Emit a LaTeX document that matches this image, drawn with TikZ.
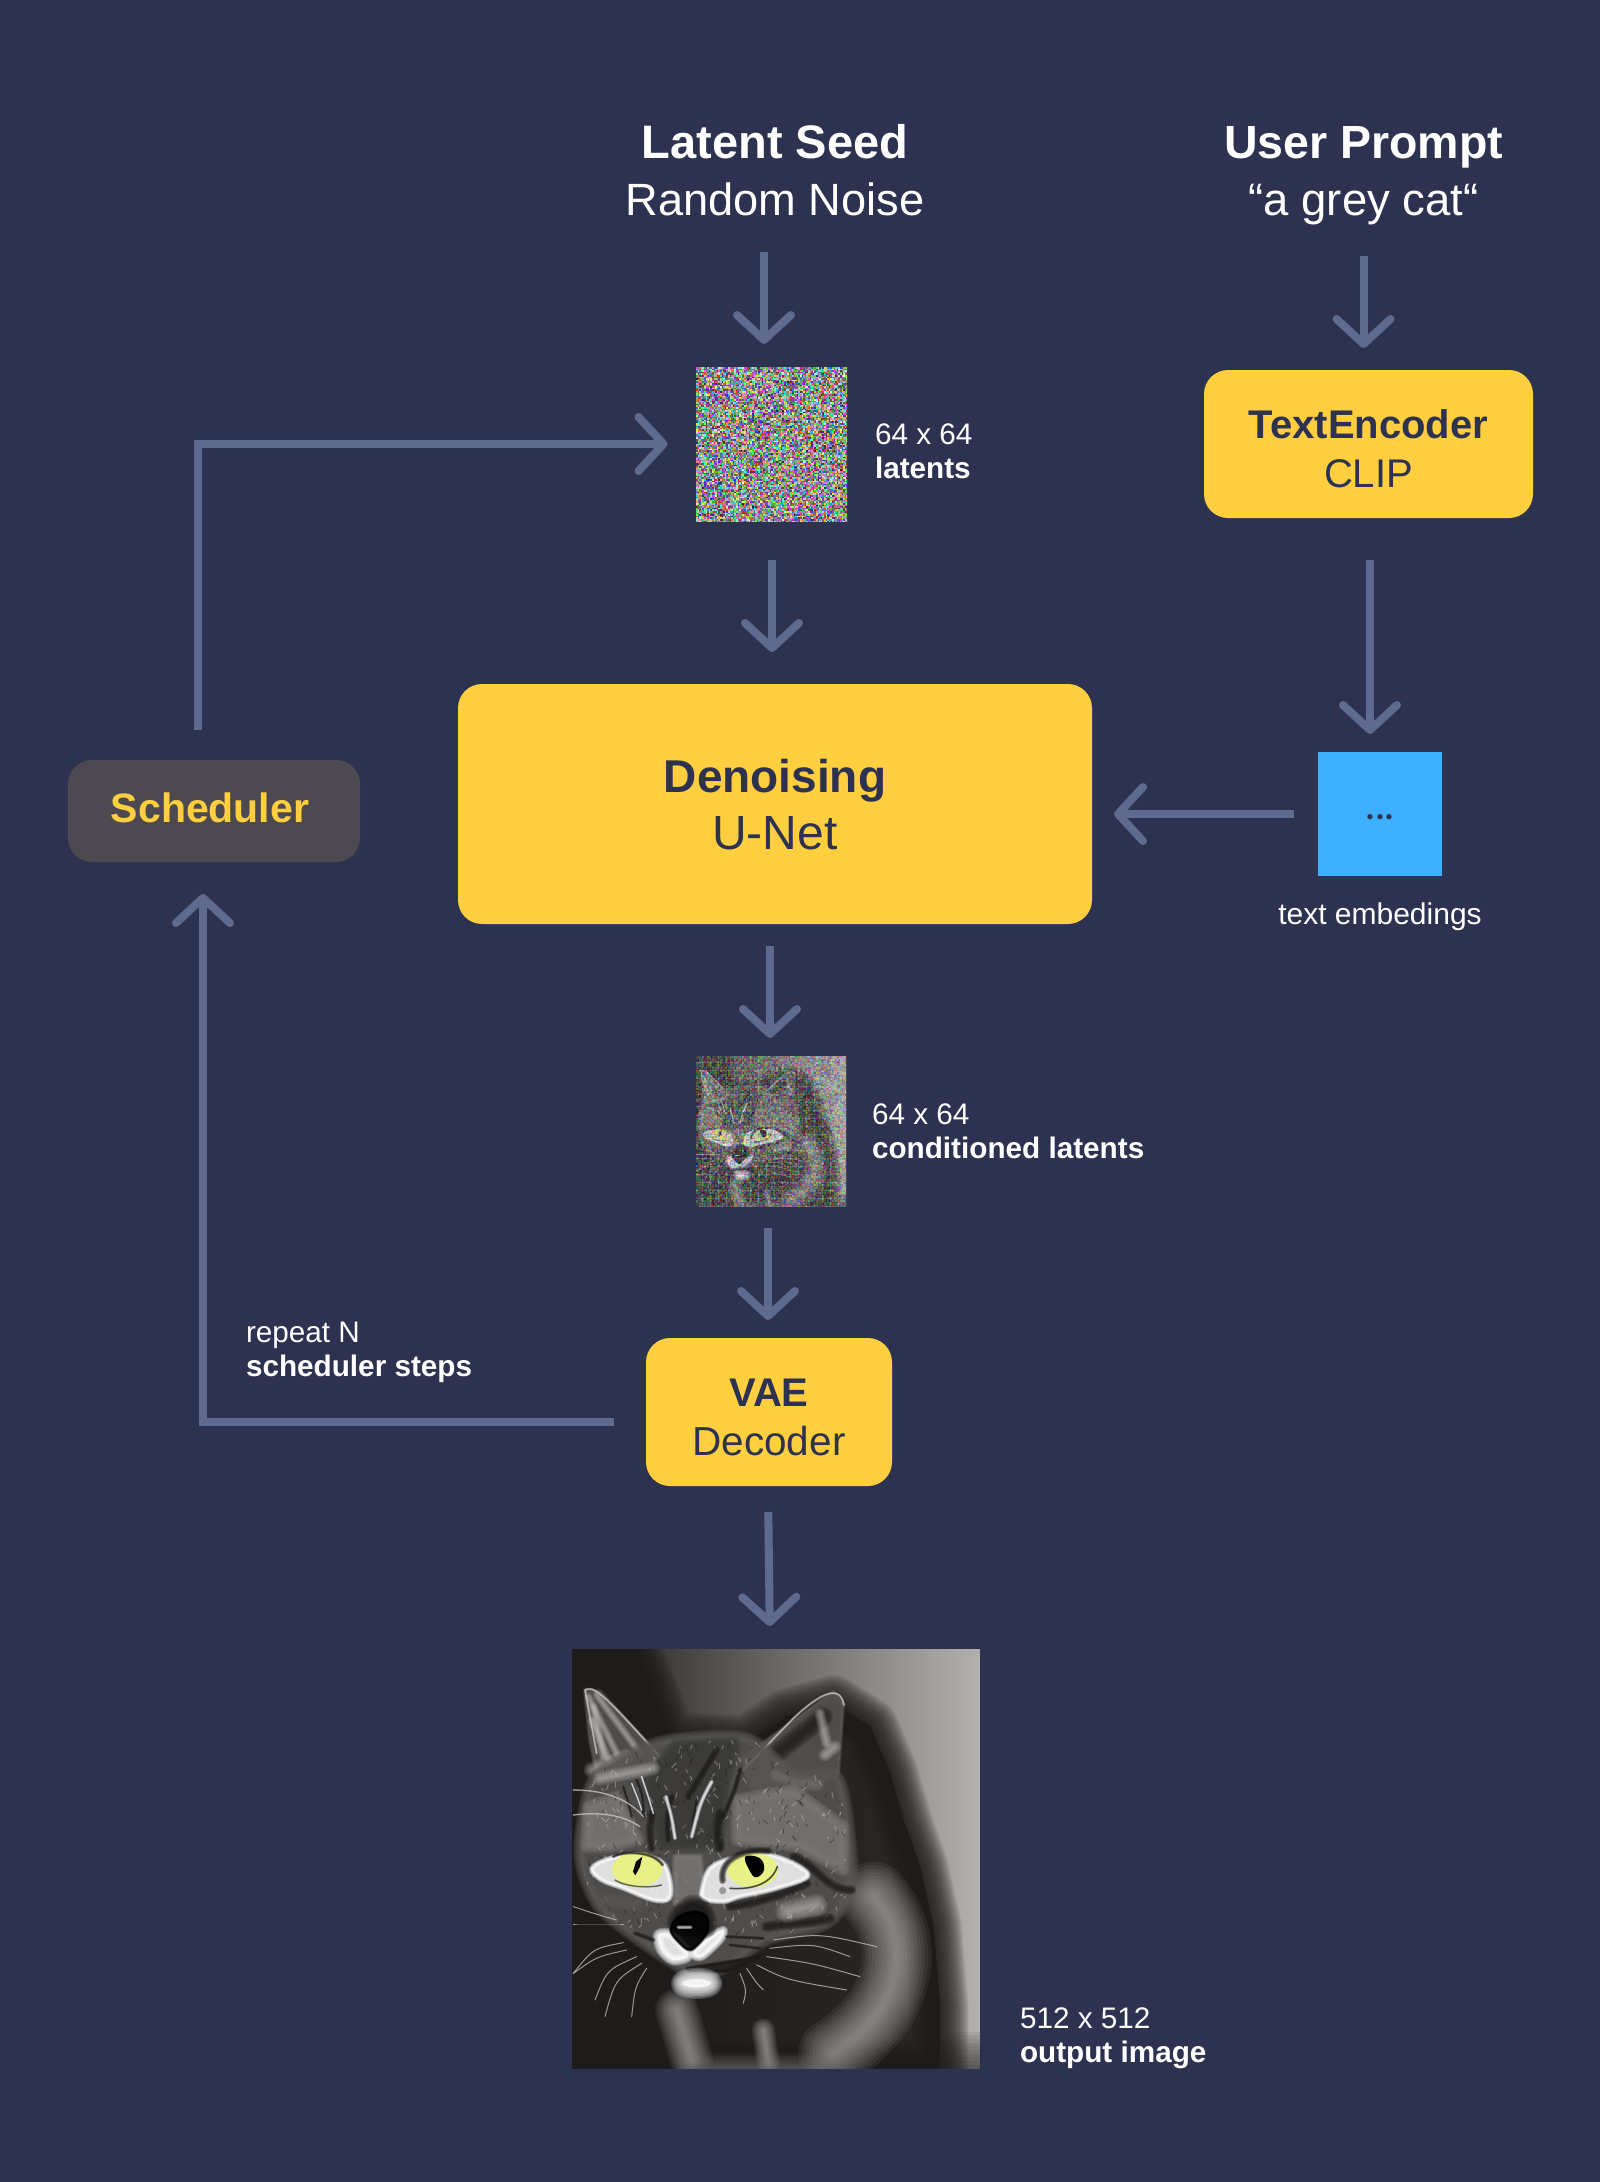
\documentclass[tikz,border=0pt]{standalone}
\usepackage{fontspec}
\setmainfont{Liberation Sans}
\newfontfamily\dotfont{Lato}
\usetikzlibrary{arrows.meta}
\definecolor{bgc}{HTML}{2D3250}
\definecolor{yel}{HTML}{FFCF3F}
\definecolor{flowc}{HTML}{5F6A8F}
\definecolor{schedc}{HTML}{4C4A50}
\definecolor{bluec}{HTML}{3EAFFF}
\definecolor{cdark}{HTML}{1E1C1B}
\definecolor{cmid}{HTML}{5A5856}
\definecolor{cfur}{HTML}{7A7876}
\definecolor{clite}{HTML}{D0CECC}
\definecolor{ceye}{HTML}{E8F088}
\newcommand\fsz[2]{\fontsize{#1}{#2}\selectfont}
% last baseline raise, line skip, first line, second line
\newcommand\twoline[4]{\raisebox{#1pt}[0pt][0pt]{\makebox[0pt][c]{\raisebox{#2pt}{#3}}\makebox[0pt][c]{#4}}}
\newcommand\softfill[3]{\foreach \q in {1,0.875,0.75,0.625,0.5,0.375,0.25,0.125}{\draw[#1,fill=#1,opacity=.2,line width=\q*#2*\ck pt,line join=round,line cap=round] #3;}}
\newcommand\softline[3]{\foreach \q in {1,0.875,0.75,0.625,0.5,0.375,0.25,0.125}{\draw[#1,opacity=.2,line width=\q*#2*\ck pt,line join=round,line cap=round] #3;}}
\newcommand\softlow[3]{\foreach \q in {1,0.9,0.8,0.7,0.6,0.5,0.4,0.3,0.2,0.1}{\draw[#1,opacity=.08,line width=\q*#2*\ck pt,line join=round,line cap=round] #3;}}
\newcommand\softbig[3]{\foreach \q in {1,0.94,0.88,0.82,0.76,0.7,0.64,0.58,0.52,0.46,0.4,0.34,0.28,0.22,0.16,0.1,0.05,0.0}{\draw[#1,fill=#1,opacity=.11,line width=\q*#2*\ck pt,line join=round,line cap=round] #3;}}
\newcommand\furpath{plot[smooth cycle,tension=.55] coordinates {(95,430) (200,350) (330,300) (560,295) (700,400) (830,410) (870,600) (870,745) (800,850) (620,900) (480,990) (370,985) (210,880) (110,790) (60,640)}}
\newcommand\catimage{%
  \shade[left color=cdark,middle color=black!52!clite,right color=black!14!clite] (36,27) rectangle (1260,1285);
  % shadow behind the cat
  \softbig{cdark}{170}{(36,27) -- (220,27) -- (330,300) -- (560,310) -- (680,230) -- (820,190) -- (930,260) -- (990,400) -- (1030,540) -- (1080,680) -- (1120,860) -- (1140,1100) -- (1140,1285) -- (36,1285) -- cycle}
  \softlow{cdark}{220}{(1260,1285) -- (1190,1285)}
  % body
  \softlow{clite}{210}{(940,770) .. controls (1060,900) and (1030,1110) .. (820,1240)}
  \softlow{clite}{130}{(350,1110) -- (395,1260)}
  \softlow{clite}{70}{(610,1170) -- (625,1270)}
  \softlow{cfur}{90}{(460,1285) -- (780,1285)}
  % ears
  \softfill{cmid}{14}{(75,150) -- (120,155) -- (300,350) -- (200,400) -- (115,420) -- (90,300) -- cycle}
  \foreach \a/\b/\c/\d in {85/170/170/340,100/200/130/350,110/165/240/340,95/240/160/390}{\softlow{clite}{26}{(\a,\b) -- (\c,\d)}}
  \softlow{clite}{50}{(95,390) -- (200,350)}
  \softline{clite}{7}{(110,340) -- (75,150) .. controls (100,135) and (130,160) .. (295,345)}
  \softfill{cmid}{12}{(540,360) -- (820,155) -- (850,190) -- (835,400) -- (700,470) -- (580,450) -- cycle}
  \softline{cdark}{60}{(650,340) -- (790,230)}
  \softline{clite}{44}{(650,405) -- (770,435)}
  \softlow{clite}{40}{(795,345) -- (825,320)}
  \softlow{clite}{34}{(780,220) -- (800,310)}
  \softline{clite}{7}{(545,395) -- (700,235) .. controls (780,160) and (840,130) .. (852,195)}
  % head
  \softfill{cmid}{40}{\furpath}
  \softfill{black!72!clite}{50}{(350,320) -- (520,310) -- (490,430) -- (470,610) -- (310,610) -- (270,430) -- cycle}
  \softfill{cfur}{40}{(530,480) -- (700,450) -- (850,560) -- (850,690) -- (720,620) -- (530,600) -- cycle}
  \softfill{cfur}{40}{(85,500) -- (170,470) -- (235,600) -- (150,620) -- (80,620) -- cycle}
  \softlow{clite}{44}{(120,415) -- (280,385)}
  % fur texture, kept on the head
  \begin{scope}
    \clip \furpath;
    \foreach \n in {1,...,520}{%
      \pgfmathrandominteger{\fx}{60}{870}\pgfmathrandominteger{\fy}{300}{900}\pgfmathrandominteger{\fa}{40}{140}\pgfmathrandominteger{\fl}{8}{20}\pgfmathrandominteger{\ft}{0}{1}%
      \ifnum\ft=0\def\fc{clite}\else\def\fc{cdark}\fi
      \draw[\fc,opacity=.4,line width=3*\ck pt] (\fx,\fy) -- +(\fa:\fl);}
  \end{scope}
  % forehead stripes
  \foreach \a/\b/\c/\d/\e/\f/\w in {275/520/268/570/275/625/26,335/470/320/540/325/600/18,480/520/470/570/480/625/30,470/330/430/400/385/470/22,540/390/525/450/490/530/16,230/420/250/470/250/530/10,190/440/205/490/215/530/8,410/480/400/530/395/590/8}{\softline{cdark}{\w}{(\a,\b) .. controls (\c,\d) .. (\e,\f)}}
  \foreach \a/\b/\c/\d/\e/\f/\w in {318/470/335/530/345/595/12,455/425/420/490/395/590/13,245/410/265/470/280/520/6,215/430/235/480/245/510/5}{\softline{white}{\w}{(\a,\b) .. controls (\c,\d) .. (\e,\f)}}
  \softline{clite}{5}{(40,450) .. controls (120,450) and (200,470) .. (250,530)}
  \softline{clite}{5}{(40,525) .. controls (120,515) and (190,525) .. (240,560)}
  % cheek folds
  \softline{cdark}{28}{(700,650) .. controls (770,670) and (790,750) .. (875,750)}
  \softline{cdark}{34}{(620,860) .. controls (680,850) and (760,850) .. (810,835)}
  \softlow{clite}{70}{(680,815) -- (770,795)}
  \softline{cmid}{46}{(130,780) -- (230,790)}
  \softline{cdark}{30}{(510,800) .. controls (590,790) and (680,760) .. (740,730)}
  % nose bridge
  \softfill{cfur}{20}{(345,650) -- (420,650) -- (430,770) -- (345,790) -- cycle}
  % eyes
  \softfill{white}{16}{plot[smooth cycle,tension=.6] coordinates {(95,685) (150,655) (230,645) (305,665) (330,720) (328,775) (280,780) (190,745) (125,720)}}
  \fill[ceye] (232,688) ellipse [x radius=76,y radius=52];
  \softline{cdark}{10}{(160,650) .. controls (190,632) and (280,632) .. (308,675)}
  \softline{black!75!ceye}{5}{(165,720) .. controls (200,742) and (270,745) .. (305,735)}
  \fill[black] (247,650) -- (240,680) -- (226,706) -- (219,695) -- (228,665) -- cycle;
  \softfill{white}{16}{plot[smooth cycle,tension=.6] coordinates {(428,740) (455,680) (540,650) (650,650) (745,705) (650,745) (540,770) (490,785) (430,775)}}
  \fill[ceye] (578,690) ellipse [x radius=76,y radius=52];
  \softline{cdark}{22}{(488,722) .. controls (478,665) and (540,625) .. (625,632)}
  \softline{cdark}{6}{(510,745) .. controls (580,750) and (635,730) .. (652,680)}
  \fill[black] plot[smooth cycle,tension=.7] coordinates {(556,650) (600,655) (612,690) (588,712) (568,690)};
  \fill[black!25!clite] (488,752) circle [radius=11];
  % nose and muzzle
  \softfill{white}{34}{plot[smooth cycle,tension=.5] coordinates {(295,885) (335,885) (385,945) (340,960) (305,930)}}
  \softfill{white}{26}{plot[smooth cycle,tension=.5] coordinates {(400,940) (445,895) (490,870) (480,900) (425,950)}}
  \softfill{cdark}{50}{plot[smooth cycle,tension=.6] coordinates {(345,850) (390,790) (435,810) (440,870)}}
  \softfill{black}{10}{plot[smooth cycle,tension=.5] coordinates {(332,870) (350,835) (400,815) (440,830) (440,880) (392,930) (350,900)}}
  \softline{clite}{12}{(355,862) -- (392,862)}
  \softfill{cdark}{12}{(380,985) -- (600,950) -- (500,995) -- (390,995) -- cycle}
  \softfill{white}{70}{(410,1030) ellipse [x radius=42,y radius=12]}
  \softline{cdark}{14}{(225,880) -- (280,900)}
  \softline{cdark}{10}{(500,890) -- (610,895)}
  \softline{cdark}{10}{(510,915) -- (600,925)}
  % whiskers
  \foreach \a/\b/\c/\d/\e/\f in {
    190/908/100/925/40/1000, 200/930/110/950/40/1000, 230/950/140/990/105/1080, 245/970/165/1020/135/1130, 260/985/225/1040/215/1130,
    170/840/100/820/40/800, 190/855/120/855/40/855,
    540/1000/560/1050/550/1090, 560/985/590/1030/610/1050, 590/975/680/1020/860/1050,
    620/950/760/970/900/1010, 640/900/780/880/950/920, 630/925/760/910/870/950}{
    \draw[clite,opacity=.7,line width=3*\ck pt,line cap=round] (\a,\b) .. controls (\c,\d) .. (\e,\f);}
}
% random coloured cells, written straight into the page content, row by row
\newcount\nxi \newcount\nyi
\makeatletter
\def\nzcell{\ifnum\nxi<\nzn
  \pgfmathrandominteger{\nr}{\nzlow}{99}\pgfmathrandominteger{\ng}{\nzlow}{99}\pgfmathrandominteger{\nb}{\nzlow}{99}%
  \edef\nrow{\nrow.\nr\space.\ng\space.\nb\space rg \the\nxi\space\the\nyi\space 1.15 1.15 re f }%
  \advance\nxi 1
  \expandafter\nzcell\fi}
\def\nzrow{\ifnum\nyi<\nzn \def\nrow{}\nxi=0 \nzcell \pgfsys@invoke{\nrow}\advance\nyi 1 \expandafter\nzrow\fi}
\newcommand\noisefield[5]{% x0, y0, cell, low (10-99), cells per side
  \pgfmathsetmacro\nsc{#3*0.99626}\pgfmathsetmacro\nox{#1*0.99626}\pgfmathsetmacro\noy{-#2*0.99626}%
  \def\nzn{#5}\def\nzlow{#4}\nyi=0
  \pgfsys@invoke{q \nsc\space 0 0 -\nsc\space \nox\space \noy\space cm }%
  \nzrow
  \pgfsys@invoke{ Q }}
\makeatother
\tikzset{
  flow/.style={draw=flowc,line width=8pt,-{Straight Barb[length=25pt,width=54pt,line width=8pt,round]}},
  yelbox/.style={fill=yel,text=bgc,rounded corners=24pt,inner sep=0pt,outer sep=0pt},
  schedbox/.style={fill=schedc,text=yel,rounded corners=24pt,inner sep=0pt,outer sep=0pt},
  head/.style={text=white,inner sep=0pt,outer sep=0pt,minimum width=320pt,minimum height=120pt},
  lab/.style={text=white,align=left,inner sep=0pt,outer sep=0pt,anchor=base west,font=\fsz{29.7}{34}},
  imgnode/.style={inner sep=0pt,outer sep=0pt}
}
\begin{document}
\begin{tikzpicture}[x=1pt,y=-1pt]
\useasboundingbox (0,0) rectangle (1600,2182);
\fill[bgc] (0,0) rectangle (1600,2182);
\pgfmathsetseed{4242}
% noise image
\begin{scope}
  \clip (696,367) rectangle (847,521);
  \noisefield{696}{367}{1.6}{12}{97}
\end{scope}
% conditioned latents image
\begin{scope}
  \clip (696,1056) rectangle (846,1206);
  \begin{scope}[shift={(691.6,1052.7)},x=0.12255pt,y=-0.119pt]
    \def\ck{0.1225}
    \catimage
  \end{scope}
  \begin{scope}[opacity=.4]
  \noisefield{696}{1056}{1.6}{10}{95}
  \end{scope}
\end{scope}
% output image
\begin{scope}
  \clip (572,1649) rectangle (980,2068);
  \begin{scope}[shift={(560,1640)},x=0.3333pt,y=-0.3333pt]
    \def\ck{0.3333}
    \catimage
  \end{scope}
\end{scope}
% nodes
\node[head] (seed) at (775,170) {\twoline{-45}{57}{\fsz{47}{58}\bfseries Latent Seed}{\fsz{45.2}{58}Random Noise}};
\node[head] (prompt) at (1363.6,170) {\twoline{-45}{57}{\fsz{46.5}{58}\bfseries User Prompt}{\fsz{45.5}{58}“a grey cat“}};
\node[imgnode,minimum width=151pt,minimum height=154pt] (noise) at (771.5,444) {};
\node[yelbox,minimum width=329pt,minimum height=148pt] (encoder) at (1368.5,444) {\twoline{-43}{49}{\fsz{40}{49}\bfseries TextEncoder}{\fsz{40}{49}CLIP}};
\node[yelbox,minimum width=634pt,minimum height=240pt] (unet) at (775,804) {\twoline{-45}{57}{\fsz{46}{58}\bfseries Denoising}{\fsz{48}{58}U-Net}};
\node[schedbox,minimum width=292pt,minimum height=102pt] (sched) at (214,811) {\twoline{-11}{0}{}{\fsz{41}{49}\bfseries\hspace*{-8pt}Scheduler}};
\node[fill=bluec,text=bgc,inner sep=0pt,outer sep=0pt,minimum width=124pt,minimum height=124pt] (embed) at (1380,814) {\raisebox{-5pt}[0pt][0pt]{\makebox[0pt][c]{\dotfont\fsz{42}{42}...}}};
\node[imgnode,minimum width=150pt,minimum height=150pt] (cond) at (771,1131) {};
\node[yelbox,minimum width=246pt,minimum height=148pt] (vae) at (769,1412) {\twoline{-43}{49}{\fsz{40}{49}\bfseries VAE}{\fsz{40.5}{49}Decoder}};
\node[imgnode,minimum width=408pt,minimum height=419pt] (output) at (776,1858.5) {};
% labels
\node[lab] (l1) at (875,478) {64 x 64\\ \textbf{latents}};
\node[lab] (l2) at (872,1158) {64 x 64\\ \textbf{conditioned latents}};
\node[lab] (l3) at (246,1376) {repeat N\\ \textbf{scheduler steps}};
\node[lab] (l4) at (1020,2062) {512 x 512\\ \textbf{output image}};
\node[text=white,inner sep=0pt,outer sep=0pt,anchor=base,font=\fsz{30}{34}] (l5) at (1380,924) {text embedings};
% connectors
\draw[flow,shorten <=22pt,shorten >=23pt] ([xshift=-11pt]seed.south) -- ([xshift=-7.5pt]noise.north);
\draw[flow,shorten <=26pt,shorten >=22pt] (prompt.south) -- ([xshift=-4.9pt]encoder.north);
\draw[flow,shorten <=42pt,shorten >=18pt] ([xshift=1.5pt]encoder.south) -- ([xshift=-10pt]embed.north);
\draw[flow,shorten <=24pt,shorten >=22pt] (embed.west) -- ([yshift=-10pt]unet.east);
\draw[flow,shorten <=39pt,shorten >=32pt] ([xshift=.5pt]noise.south) -- ([xshift=-3pt]unet.north);
\draw[flow,shorten <=22pt,shorten >=18pt] ([xshift=-5pt]unet.south) -- ([xshift=-1pt]cond.north);
\draw[flow,shorten <=22pt,shorten >=18pt] ([xshift=-3pt]cond.south) -- ([xshift=-1pt]vae.north);
\draw[flow,shorten <=26pt,shorten >=23pt] ([xshift=-1pt]vae.south) -- ([xshift=-6pt]output.north);
\draw[flow,shorten <=30pt,shorten >=28.5pt] ([xshift=-16pt]sched.north) |- (noise.west);
\draw[flow,shorten <=32pt,shorten >=32pt] ([yshift=-10pt]vae.west) -| ([xshift=-11pt]sched.south);
\end{tikzpicture}
\end{document}
